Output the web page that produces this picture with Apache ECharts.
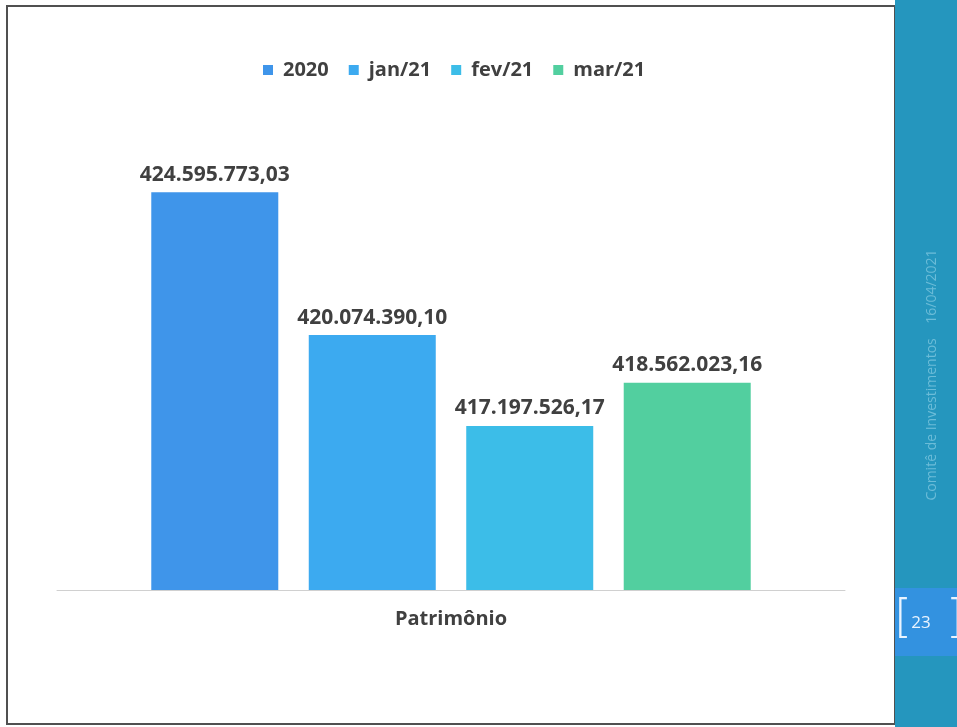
<!DOCTYPE html>
<html>
<head>
<meta charset="utf-8">
<script src="https://cdn.jsdelivr.net/npm/echarts@6/dist/echarts.min.js"></script>
<style>
  html, body { margin: 0; padding: 0; background: #fff; }
  #chart { width: 957px; height: 727px; }
</style>
</head>
<body>
<div id="chart"></div>
<script>
// values
var categories = ['Patrimônio'];
var seriesNames = ['2020', 'jan/21', 'fev/21', 'mar/21'];
var seriesValues = [424595773.03, 420074390.10, 417197526.17, 418562023.16];
var seriesColors = ['#3f95ea', '#3caaf0', '#3cbde8', '#52cf9f'];
var sideText = 'Comitê de Investimentos    16/04/2021';
var pageNumber = '23';

function fmtBR(v) {
    var parts = v.toFixed(2).split('.');
    return parts[0].replace(/\B(?=(\d{3})+(?!\d))/g, '.') + ',' + parts[1];
}

var chart = echarts.init(document.getElementById('chart'));
var font = 'Open Sans';

var series = seriesNames.map(function (name, i) {
    return {
        name: name,
        type: 'bar',
        data: [seriesValues[i]],
        barWidth: 127,
        barGap: '24%',
        itemStyle: { color: seriesColors[i] },
        label: {
            show: true,
            position: 'top',
            distance: 7,
            formatter: function (p) { return fmtBR(p.value); },
            color: '#404040',
            fontFamily: font,
            fontWeight: 'bold',
            fontSize: 21
        }
    };
});

var option = {
    animation: false,
    backgroundColor: '#fff',
    legend: {
        data: seriesNames,
        top: 55,
        left: 258,
        itemWidth: 10,
        itemHeight: 10,
        itemGap: 20,
        icon: 'rect',
        textStyle: { color: '#404040', fontFamily: font, fontWeight: 'bold', fontSize: 20, padding: [0, 0, 0, 5] }
    },
    grid: { left: 57, right: 112, top: 148, bottom: 137 },
    xAxis: {
        type: 'category',
        data: categories,
        axisLine: { lineStyle: { color: '#d0d0d0', width: 1 } },
        axisTick: { show: false },
        axisLabel: { color: '#404040', fontFamily: font, fontWeight: 'bold', fontSize: 20, margin: 19 }
    },
    yAxis: {
        type: 'value',
        min: 412000000,
        max: 426000000,
        show: false
    },
    graphic: [
        // slide border
        { type: 'rect', shape: { x: 7, y: 6, width: 888, height: 718 }, style: { fill: 'none', stroke: '#505050', lineWidth: 2 }, z: -1 },
        // sidebar
        { type: 'rect', shape: { x: 895, y: 0, width: 62, height: 727 }, style: { fill: '#2596be' }, z: 10 },
        { type: 'rect', shape: { x: 895, y: 588, width: 62, height: 68 }, style: { fill: '#3392e0' }, z: 11 },
        {
            type: 'text', x: 932, y: 375, rotation: Math.PI / 2, z: 12,
            style: { text: sideText, fill: '#6bbcd8', fontFamily: font, fontSize: 14, align: 'center', verticalAlign: 'middle' }
        },
        {
            type: 'text', x: 921, y: 623, z: 12,
            style: { text: pageNumber, fill: '#eaf4ff', fontFamily: font, fontSize: 17, align: 'center', verticalAlign: 'middle' }
        },
        {
            type: 'text', x: 903, y: 620, z: 12,
            style: { text: '[', fill: '#eaf4ff', fontFamily: 'DejaVu Sans', fontSize: 46, fontWeight: 'lighter', align: 'center', verticalAlign: 'middle' }
        },
        {
            type: 'text', x: 955, y: 620, z: 12,
            style: { text: ']', fill: '#eaf4ff', fontFamily: 'DejaVu Sans', fontSize: 46, fontWeight: 'lighter', align: 'center', verticalAlign: 'middle' }
        }
    ],
    series: series
};

chart.setOption(option);
</script>
</body>
</html>
